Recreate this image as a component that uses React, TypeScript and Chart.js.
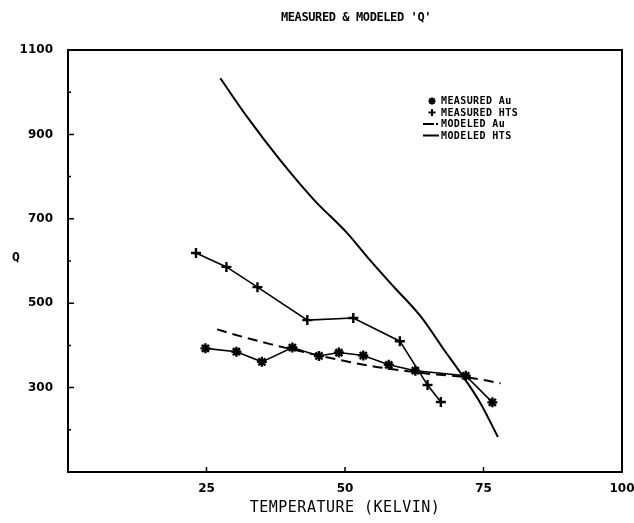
import React, { useEffect, useRef } from 'react';
import { Chart, registerables } from 'chart.js';

Chart.register(...registerables);

// ---- data ----
const measuredAuT = [24.8, 30.4, 35.0, 40.5, 45.3, 48.9, 53.3, 57.9, 62.7, 71.8, 76.6];
const measuredAuQ = [393, 385, 361, 395, 375, 383, 376, 354, 340, 328, 265];

const measuredHtsT = [23.1, 28.6, 34.2, 43.2, 51.5, 59.9, 64.9, 67.3];
const measuredHtsQ = [619, 586, 538, 460, 465, 410, 306, 266];

const modeledAuT = [26.9, 30, 36.5, 40, 45, 49.2, 55.2, 60, 65, 70.9, 75, 78.1];
const modeledAuQ = [438, 426, 403, 392, 377, 365, 350, 341, 333, 326, 318, 310];

const modeledHtsT = [27.5, 32.3, 38.3, 44.4, 50.4, 54.0, 58.8, 63.7, 67.9, 70.9, 74.5, 77.6];
const modeledHtsQ = [1033, 942, 839, 745, 666, 610, 539, 468, 389, 334, 262, 183];

const xTickValues = [25, 50, 75, 100];
const yTickLabels = [300, 500, 700, 900, 1100];
const yMinorTicks = [200, 400, 600, 800, 1000];
const legendLabels = ['MEASURED Au', 'MEASURED HTS', 'MODELED Au', 'MODELED HTS'];
const titleText = "MEASURED & MODELED 'Q'";
const xTitleText = 'TEMPERATURE (KELVIN)';
const yTitleText = 'Q';

const toPoints = (xs: number[], ys: number[]) => xs.map((x, i) => ({ x, y: ys[i] }));

const MONO = '"DejaVu Sans Mono", monospace';
const SANS = '"DejaVu Sans", sans-serif';

function drawStar(ctx: CanvasRenderingContext2D, x: number, y: number, r: number) {
  ctx.beginPath();
  ctx.moveTo(x - r, y); ctx.lineTo(x + r, y);
  ctx.moveTo(x, y - r); ctx.lineTo(x, y + r);
  const d = r * 0.75;
  ctx.moveTo(x - d, y - d); ctx.lineTo(x + d, y + d);
  ctx.moveTo(x - d, y + d); ctx.lineTo(x + d, y - d);
  ctx.stroke();
}
function drawCross(ctx: CanvasRenderingContext2D, x: number, y: number, r: number) {
  ctx.beginPath();
  ctx.moveTo(x - r, y); ctx.lineTo(x + r, y);
  ctx.moveTo(x, y - r); ctx.lineTo(x, y + r);
  ctx.stroke();
}

const decorPlugin = {
  id: 'decor',
  afterDraw(chart: any) {
    const { ctx, chartArea } = chart;
    const xs = chart.scales.x;
    const ys = chart.scales.y;
    ctx.save();
    ctx.strokeStyle = '#000';
    ctx.fillStyle = '#000';
    // frame
    ctx.lineWidth = 2;
    ctx.strokeRect(chartArea.left, chartArea.top, chartArea.right - chartArea.left, chartArea.bottom - chartArea.top);
    // inner ticks
    ctx.lineWidth = 1.5;
    ctx.beginPath();
    yTickLabels.forEach((v) => {
      if (v >= 1100) return;
      const py = ys.getPixelForValue(v);
      ctx.moveTo(chartArea.left, py);
      ctx.lineTo(chartArea.left + 6, py);
    });
    yMinorTicks.forEach((v) => {
      const py = ys.getPixelForValue(v);
      ctx.moveTo(chartArea.left, py);
      ctx.lineTo(chartArea.left + 3, py);
    });
    xTickValues.forEach((v) => {
      if (v >= 100) return;
      const px = xs.getPixelForValue(v);
      ctx.moveTo(px, chartArea.bottom);
      ctx.lineTo(px, chartArea.bottom - 5);
    });
    ctx.stroke();

    // title
    ctx.textAlign = 'center';
    ctx.textBaseline = 'middle';
    ctx.font = `bold 12px ${MONO}`;
    (ctx as any).letterSpacing = '-0.4px';
    ctx.fillText(titleText, 356, 18);
    // x title
    ctx.font = `15px ${MONO}`;
    (ctx as any).letterSpacing = '0.5px';
    ctx.fillText(xTitleText, (chartArea.left + chartArea.right) / 2, 508);
    // y title
    ctx.font = `bold 13px ${MONO}`;
    (ctx as any).letterSpacing = '0px';
    ctx.fillText(yTitleText, 16, 258);

    // legend
    const rows = [101, 112.5, 124, 135.5];
    ctx.textAlign = 'left';
    ctx.font = `bold 10px ${MONO}`;
    (ctx as any).letterSpacing = '0.4px';
    const textX = 441;
    legendLabels.forEach((label, i) => {
      const y = rows[i];
      ctx.lineWidth = 2;
      if (i === 0) drawStar(ctx, 432, y, 3.5);
      if (i === 1) drawCross(ctx, 432, y, 3.5);
      if (i === 2) {
        ctx.beginPath();
        ctx.moveTo(423, y); ctx.lineTo(434, y);
        ctx.stroke();
        ctx.fillRect(436, y - 1, 2, 2);
      }
      if (i === 3) {
        ctx.beginPath();
        ctx.moveTo(423, y); ctx.lineTo(439, y);
        ctx.stroke();
      }
      ctx.fillText(label, textX, y + 0.5);
    });
    ctx.restore();
  },
};

export default function App() {
  const ref = useRef<HTMLCanvasElement | null>(null);
  useEffect(() => {
    if (!ref.current) return;
    const chart = new Chart(ref.current, {
      type: 'scatter',
      data: {
        datasets: [
          {
            label: legendLabels[0],
            data: toPoints(measuredAuT, measuredAuQ),
            showLine: true,
            borderColor: '#000',
            backgroundColor: '#000',
            borderWidth: 1.6,
            pointStyle: 'star',
            pointRadius: 5,
            pointBorderWidth: 2.4,
            pointBorderColor: '#000',
          },
          {
            label: legendLabels[1],
            data: toPoints(measuredHtsT, measuredHtsQ),
            showLine: true,
            borderColor: '#000',
            backgroundColor: '#000',
            borderWidth: 1.6,
            pointStyle: 'cross',
            pointRadius: 5,
            pointBorderWidth: 2.4,
            pointBorderColor: '#000',
          },
          {
            label: legendLabels[2],
            data: toPoints(modeledAuT, modeledAuQ),
            showLine: true,
            borderColor: '#000',
            borderWidth: 2,
            borderDash: [10, 6],
            pointRadius: 0,
            cubicInterpolationMode: 'monotone',
          },
          {
            label: legendLabels[3],
            data: toPoints(modeledHtsT, modeledHtsQ),
            showLine: true,
            borderColor: '#000',
            borderWidth: 2,
            pointRadius: 0,
            cubicInterpolationMode: 'monotone',
          },
        ],
      },
      options: {
        animation: false,
        responsive: false,
        devicePixelRatio: 1,
        layout: { padding: { top: 50, right: 12, left: 0, bottom: 0 } },
        plugins: { legend: { display: false }, title: { display: false }, tooltip: { enabled: false } },
        scales: {
          x: {
            type: 'linear',
            min: 0,
            max: 100,
            grid: { display: false },
            border: { display: false },
            ticks: {
              stepSize: 25,
              color: '#000',
              padding: 2,
              maxRotation: 0,
              font: { family: SANS, size: 12, weight: 'bold' },
              callback: (v: any) => (xTickValues.includes(Number(v)) ? String(v) : ''),
            },
            afterFit: (s: any) => { s.height = 51; s.paddingLeft = 0; s.paddingRight = 0; },
          },
          y: {
            type: 'linear',
            min: 100,
            max: 1100,
            grid: { display: false },
            border: { display: false },
            ticks: {
              stepSize: 100,
              color: '#000',
              padding: 7,
              font: { family: SANS, size: 12, weight: 'bold' },
              callback: (v: any) => (yTickLabels.includes(Number(v)) ? String(v) : ''),
            },
            afterFit: (s: any) => { s.width = 68; s.paddingTop = 0; s.paddingBottom = 0; },
          },
        },
      } as any,
      plugins: [decorPlugin],
    });
    return () => chart.destroy();
  }, []);
  return (
    <div style={{ position: 'fixed', left: 0, top: 0, width: 634, height: 523, background: '#fff' }}>
      <canvas ref={ref} width={634} height={523} style={{ width: 634, height: 523, display: 'block' }} />
    </div>
  );
}
